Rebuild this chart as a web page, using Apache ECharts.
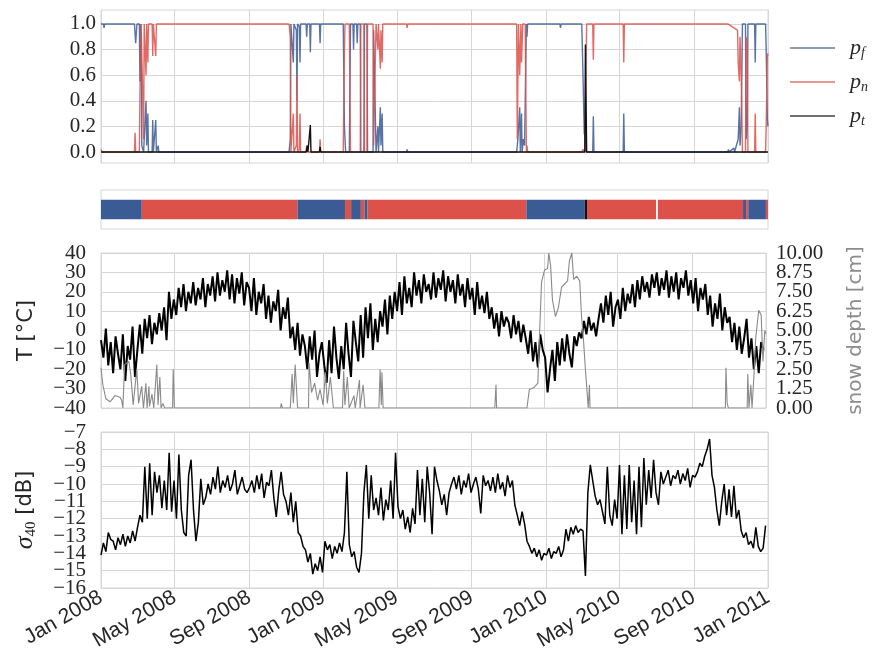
<!DOCTYPE html>
<html>
<head>
<meta charset="utf-8">
<script src="https://cdn.jsdelivr.net/npm/echarts@6/dist/echarts.min.js"></script>
<style>
  html, body { margin: 0; padding: 0; background: #fff; }
  #chart { width: 874px; height: 666px; }
</style>
</head>
<body>
<div id="chart"></div>
<script>
var DAY = 86400000;
var T0 = Date.UTC(2008, 0, 1);
var T1 = Date.UTC(2011, 0, 1);

// x ticks
var tickDates = ['2008-01-01', '2008-05-01', '2008-09-01', '2009-01-01', '2009-05-01',
  '2009-09-01', '2010-01-01', '2010-05-01', '2010-09-01', '2011-01-01'];
var tickLabels = ['Jan 2008', 'May 2008', 'Sep 2008', 'Jan 2009', 'May 2009',
  'Sep 2009', 'Jan 2010', 'May 2010', 'Sep 2010', 'Jan 2011'];

// y ticks
var probTicks = [0, 0.2, 0.4, 0.6, 0.8, 1.0];
var tempTicks = [-40, -30, -20, -10, 0, 10, 20, 30, 40];
var snowTicks = [0, 1.25, 2.5, 3.75, 5, 6.25, 7.5, 8.75, 10];
var sigmaTicks = [-16, -15, -14, -13, -12, -11, -10, -9, -8, -7];

// state probabilities, given as (days since 2008-01-01, value) break points
var pfDays = [0, 4, 5, 6, 55, 57, 59, 63, 64, 65, 66, 67, 70, 73, 74, 75, 77, 78, 84, 85, 86, 89, 90, 91, 94, 95,
  309, 311, 312, 316, 317, 321, 322, 323, 326, 327, 328, 337, 338, 339, 343, 344, 345, 359, 360, 361,
  398, 400, 402, 408, 410, 414, 415, 416, 420, 421, 422, 426, 427, 432, 433, 437, 438, 447, 448, 451, 452, 455, 456, 459, 460, 462, 463, 465,
  502, 503, 504,
  683, 685, 688, 689, 691, 692, 694, 696, 699, 700, 701,
  754, 755, 756,
  790, 792, 794, 796, 797,
  808, 809, 810, 858, 859, 860,
  1030, 1031, 1032, 1040, 1041, 1047, 1049, 1050, 1052, 1054, 1059, 1060, 1062, 1063, 1074, 1075, 1076, 1092, 1093, 1095, 1096];
var pfVals = [1, 1, 0.97, 1, 1, 0.85, 1, 1, 0.55, 1, 0.9, 0.05, 0, 0, 0.4, 0.05, 0.3, 0, 0, 0.25, 0, 0, 0.25, 0, 0.05, 0,
  0, 0.1, 1, 0.7, 1, 0.95, 0.4, 1, 0.98, 0.7, 1, 1, 0.9, 1, 1, 0.78, 1, 1, 0.85, 1,
  1, 0.2, 0, 0, 1, 1, 0.8, 1, 1, 0.85, 1, 1, 0, 0, 1, 1, 0, 0, 0.95, 0.95, 0, 0.2, 0, 0.35, 0.05, 0.3, 0, 0,
  0, 0.02, 0,
  0, 0.1, 0.35, 0, 0.3, 0, 0.1, 0.05, 1, 0.9, 1,
  1, 0.97, 1,
  1, 0.6, 0.15, 0.1, 0,
  0, 0.28, 0, 0, 0.3, 0,
  0, 0.02, 0, 0.03, 0, 0.1, 0.35, 0.05, 0.2, 1, 1, 0.1, 0.2, 1, 1, 0.7, 1, 1, 0.8, 0.25, 0.2];

var pnDays = [0, 2, 55, 56, 57, 63, 64, 66, 69, 70, 71, 73, 74, 75, 77, 78, 84, 85, 86, 89, 90, 91,
  309, 311, 312, 316, 317, 321, 322, 323, 326, 327, 328, 337, 338, 339, 343, 344, 345, 359, 360, 361,
  398, 400, 401, 408, 410, 426, 427, 432, 433, 437, 438, 447, 448, 451, 452, 455, 456, 459, 460, 462, 463,
  502, 503, 504,
  683, 684, 686, 688, 690, 691, 693, 697, 699, 700, 701,
  754, 755, 756,
  790, 792, 795, 798, 808, 809, 810,
  858, 859, 860,
  1030, 1040, 1046, 1047, 1049, 1050, 1052, 1054, 1059, 1060, 1062, 1063, 1074, 1075, 1076, 1092, 1093, 1095, 1096];
var pnVals = [0.02, 0, 0, 0.15, 0, 0, 0.45, 1, 1, 0.1, 1, 1, 0.6, 1, 0.7, 1, 1, 0.75, 1, 1, 0.75, 1,
  1, 0.9, 0, 0.3, 0, 0.05, 0.6, 0, 0.02, 0.3, 0, 0, 0.05, 0, 0, 0.01, 0, 0, 0.1, 0,
  0, 0.8, 1, 1, 0, 0, 1, 1, 0, 0, 1, 1, 0.05, 0.05, 1, 0.8, 1, 0.65, 0.95, 0.7, 1,
  1, 0.97, 1,
  1, 0.1, 1, 0.6, 1, 0.7, 1, 1, 0, 0.05, 0,
  0, 0.01, 0,
  0, 0.02, 0, 1, 1, 0.72, 1,
  1, 0.7, 1,
  1, 0.97, 0.95, 0.7, 0.55, 0.9, 0.6, 0, 0, 0.9, 0.8, 0, 0, 0.3, 0, 0, 0.2, 0.77, 0.75];

var ptDays = [0, 337, 339, 340, 343, 344, 345, 359, 360, 361, 754, 755, 756, 795, 796, 797, 798, 1096];
var ptVals = [0, 0, 0.05, 0, 0, 0.21, 0, 0, 0.04, 0, 0, 0.01, 0, 0, 0.84, 0.84, 0, 0];

// most likely state: 0 frozen, 1 non-frozen, 2 transitional
var stateStart = [0, 67, 323, 401, 411, 427, 433, 438, 699, 795, 798.6, 915, 1055, 1060, 1063.6, 1092.6];
var stateEnd = [67, 323, 401, 411, 427, 433, 438, 699, 795, 798.6, 912, 1055, 1060, 1063.6, 1092.6, 1096];
var stateKind = [0, 1, 0, 1, 0, 1, 0, 1, 0, 2, 1, 1, 0, 1, 0, 1];

// air temperature, one reading every 4 days from 2008-01-01
var tempStepDays = 4;
var tempValues = [
  -5, -14, 1, -18, -6, -22, -3, -12,
  -20, -2, -26, -8, -15, 2, -24,
  -10, 3, -12, 6, -4, 8, -7, 4,
  -2, 9, 0, 12, -5, 20, 6, 16,
  8, 22, 12, 24, 10, 20, 14,
  25, 13, 22, 16, 27, 12, 24, 18,
  28, 15, 30, 18, 26, 20, 31, 16,
  29, 14, 27, 19, 30, 13, 25,
  22, 10, 27, 8, 20, 14, 24, 6,
  18, 4, 15, 10, 21, 0, 12, 6,
  17, -4, 2, -10, 4, -13, -2,
  -8, -20, -3, -15, 0, -24, -12, -6,
  -18, -27, -5, -22, 2, -14, -25, -8,
  -20, 4, -12, -24, 5, -6, -16,
  8, -14, 12, -4, 14, -10, 6,
  -6, 10, 2, 16, -2, 18, 6, 20,
  10, 25, 8, 28, 14, 22, 12, 30,
  18, 26, 14, 29, 20, 24, 16,
  30, 17, 27, 21, 31, 15, 28, 20,
  26, 14, 29, 18, 24, 12, 27, 16,
  22, 8, 25, 11, 18, 9, 20,
  6, 12, 1, 9, -3, 10, 2, 7,
  4, -4, 8, -2, 5, -6, 3,
  -4, -12, 0, -16, -6, -19, -2, -10,
  -14, -32, -20, -10, -26, -6, -18, -4,
  -16, -2, -12, -19, -3, -8, -1,
  -4, 5, -2, 7, 0, 4, -3, 6,
  14, 4, 18, 8, 20, 2, 12,
  16, 6, 22, 10, 19, 14, 24, 12,
  26, 16, 28, 20, 25, 17, 29,
  22, 30, 18, 27, 21, 31, 17, 28,
  20, 30, 16, 27, 22, 31, 18, 26,
  14, 27, 10, 22, 16, 24, 8,
  18, 2, 14, 6, 19, 0, 12, 4,
  7, -6, 4, -10, 2, -12, -4, 6,
  -14, -4, -20, -8, -22, -6, -10
];

// snow depth [cm], (days since 2008-01-01, value)
var snowDays = [0, 3, 8, 15, 23, 31, 34, 36, 39, 46, 49, 53, 59, 62, 67, 70, 74, 76, 79, 80,
  84, 87, 92, 94, 97, 99, 102, 105, 118, 119, 121, 296, 297, 299, 312, 315, 317, 320, 324, 342,
  343, 347, 352, 357, 361, 366, 370, 373, 378, 383, 398, 400, 402, 406, 409, 417, 419, 426, 427, 432,
  435, 458, 460, 462, 463, 465, 649, 651, 652, 702, 706, 713, 720, 723, 726, 731, 736, 738, 741, 744,
  749, 754, 759, 764, 769, 772, 776, 779, 784, 789, 792, 795, 798, 803, 805, 806, 1029, 1030, 1032, 1034,
  1065, 1066, 1068, 1071, 1073, 1076, 1079, 1084, 1088, 1091, 1094, 1096];
var snowVals = [2.6, 1.5, 0.6, 0.4, 0.8, 0.7, 0.5, 0, 2.8, 3.0, 2.2, 0.2, 2.5, 0.3, 1.4, 0, 1.6, 0, 1.4, 0.1,
  0.9, 0, 2.8, 0.2, 2.0, 0, 0.3, 0, 0, 2.5, 0, 0, 0.3, 0, 0, 2.2, 0.3, 2.8, 0, 0,
  2.9, 1.0, 1.6, 0.5, 1.2, 0.2, 2.3, 0.3, 2.0, 0, 0, 2.4, 0.2, 2.0, 0, 0.8, 0, 1.8, 0, 1.5,
  0, 0, 2.5, 0.2, 2.3, 0, 0, 1.5, 0, 0, 1.2, 1.3, 1.6, 5, 8.1, 8.9, 9.0, 10.0, 9.2, 7.0,
  5.9, 6.5, 7.8, 8.0, 8.2, 9.5, 10.0, 8.3, 8.5, 8.2, 5.9, 4.5, 2.7, 0, 1.5, 0, 0, 2.6, 0.3, 0,
  0, 2.2, 0, 1.5, 0, 2.0, 4.5, 6.3, 6.0, 3.0, 5.0, 4.8];

// backscatter sigma40 [dB], one reading every 4 days from 2008-01-01
var sigmaStepDays = 4;
var sigmaValues = [
  -14.1, -13.4, -13.9, -12.8, -13.2, -13.3, -13.8, -13.1,
  -13.5, -12.9, -13.6, -13.0, -13.4, -12.7, -13.3,
  -12.5, -11.8, -12.2, -9.0, -12.0, -8.8, -11.8, -9.3,
  -10.5, -9.5, -11.4, -9.8, -11.5, -8.2, -11.6, -9.8,
  -12.0, -8.3, -11.5, -12.8, -13.0, -9.5, -8.6,
  -11.5, -13.3, -12.2, -9.7, -11.2, -10.8, -10.0, -10.6,
  -9.6, -10.3, -9.0, -10.5, -9.8, -10.2, -9.5, -10.4,
  -10.0, -9.2, -10.6, -10.1, -9.6, -10.3, -10.5,
  -10.2, -9.8, -10.5, -9.5, -10.3, -9.4, -10.8, -9.9,
  -10.1, -9.2, -10.8, -11.9, -10.4, -9.3, -10.6, -11.0,
  -11.8, -10.5, -12.2, -11.0, -12.8, -13.0, -13.6,
  -13.8, -14.5, -14.0, -15.2, -14.6, -15.0, -14.2, -15.1,
  -13.3, -13.8, -13.5, -14.3, -13.6, -14.0, -13.4, -13.9,
  -12.8, -9.3, -13.5, -14.2, -13.9, -14.8, -15.1,
  -14.0, -10.5, -8.9, -12.0, -9.5, -11.5, -10.8,
  -11.8, -10.2, -12.1, -10.9, -11.5, -9.8, -12.0, -8.2,
  -11.3, -12.0, -11.5, -12.6, -11.9, -12.8, -11.4, -12.3,
  -9.2, -11.8, -9.7, -12.2, -9.0, -10.5, -12.9,
  -9.0, -9.8, -10.4, -11.2, -10.6, -11.8, -10.5, -10.0,
  -9.6, -10.3, -9.5, -10.6, -9.8, -10.2, -9.4, -10.5,
  -10.0, -9.6, -10.3, -11.7, -9.5, -10.1, -9.8,
  -10.4, -9.6, -10.5, -9.4, -10.3, -9.9, -10.7, -9.5,
  -10.2, -9.8, -11.2, -11.8, -12.4, -11.6, -12.3,
  -13.3, -13.6, -14.0, -13.7, -14.2, -13.8, -14.4, -14.0,
  -14.1, -13.7, -14.3, -13.9, -14.0, -13.6, -14.2, -13.8,
  -12.6, -13.3, -12.5, -12.9, -12.4, -12.8, -12.6,
  -12.7, -15.3, -10.5, -8.9, -9.8, -10.7, -11.2, -10.9,
  -11.6, -12.3, -9.0, -11.8, -12.4, -10.9, -12.0,
  -8.9, -12.9, -9.5, -12.6, -8.9, -12.2, -9.8, -12.9,
  -9.0, -12.5, -8.5, -11.2, -9.2, -10.8, -8.6,
  -10.5, -11.2, -9.3, -10.0, -9.6, -9.2, -10.1, -9.5,
  -9.7, -9.2, -10.0, -9.4, -9.8, -9.1, -10.2, -9.5,
  -9.6, -9.3, -8.8, -9.0, -8.4, -8.0, -7.4,
  -9.5, -10.2, -11.5, -12.4, -11.0, -10.0, -11.8, -10.3,
  -11.9, -10.1, -12.0, -11.5, -12.7, -13.1, -12.8, -13.5,
  -13.3, -13.7, -12.5, -13.6, -13.9, -13.7, -12.4
];

var BLUE = '#3b5b94';
var RED = '#dc5149';
var stateColors = [BLUE, RED, '#111111'];
var GRIDC = '#d6d6d6';
var TXT = '#262626';

var tickVals = tickDates.map(function (d) { return Date.parse(d); });

function pairs(days, vals) {
  return days.map(function (d, i) { return [T0 + d * DAY, vals[i]]; });
}
function stepped(vals, step) {
  return vals.map(function (v, i) { return [T0 + i * step * DAY, v]; });
}
function minus(v) { return String(v).replace('-', '\u2212'); }
function fixed1(v) { return v.toFixed(1); }
function fixed2(v) { return v.toFixed(2); }
// every second tick, starting at `from`
function alternate(list, from) { return list.filter(function (v, i) { return i % 2 === from; }); }

// x is a plain value axis of timestamps, ticks put on the month starts
function xAxisFor(gi, withLabels, withSplit) {
  return {
    type: 'value', gridIndex: gi, min: T0, max: T1, scale: true,
    axisLine: { show: false },
    axisTick: { show: false, customValues: tickVals },
    axisLabel: {
      show: withLabels, customValues: tickVals, rotate: 30, margin: 8,
      showMinLabel: true, showMaxLabel: true, hideOverlap: false,
      fontFamily: 'Liberation Sans', fontSize: 21, color: TXT,
      formatter: function (v) {
        var i = tickVals.indexOf(v);
        return i < 0 ? '' : tickLabels[i];
      }
    },
    splitLine: { show: withSplit, lineStyle: { color: GRIDC, width: 1 } }
  };
}

function yLabel(values, fmt, margin) {
  return {
    customValues: values, margin: margin, showMinLabel: true, showMaxLabel: true, hideOverlap: false,
    fontFamily: 'Liberation Serif', fontSize: 21, color: TXT, formatter: fmt
  };
}

// The tick labels of the tightly packed axes are split over two coincident axes,
// so that ECharts does not drop the ones next to the min/max label.
function yPair(gi, pos, min, max, ticks, fmt, margin, extra) {
  var main = {
    type: 'value', gridIndex: gi, position: pos, min: min, max: max,
    axisLine: { show: false }, axisTick: { show: false, customValues: ticks },
    axisLabel: yLabel(alternate(ticks, 0), fmt, margin),
    splitLine: { show: pos === 'left', lineStyle: { color: GRIDC } }
  };
  var twin = {
    type: 'value', gridIndex: gi, position: pos, offset: 0, min: min, max: max,
    axisLine: { show: false }, axisTick: { show: false, customValues: ticks },
    axisLabel: yLabel(alternate(ticks, 1), fmt, margin),
    splitLine: { show: false }
  };
  return [Object.assign(main, extra), twin];
}

var tempAxes = yPair(2, 'left', -40, 40, tempTicks, minus, 15, {
  name: 'T [°C]', nameLocation: 'middle', nameRotate: 90, nameGap: 64,
  nameTextStyle: { fontFamily: 'DejaVu Sans', fontSize: 21, color: TXT }
});
var snowAxes = yPair(2, 'right', 0, 10, snowTicks, fixed2, 10, {
  name: 'snow depth [cm]', nameLocation: 'middle', nameRotate: 90, nameGap: 80,
  nameTextStyle: { fontFamily: 'DejaVu Sans', fontSize: 20, color: '#8c8c8c' }
});
var sigmaAxes = yPair(3, 'left', -16, -7, sigmaTicks, minus, 15, {
  name: '{s|σ}{n|40}{d| [dB]}', nameLocation: 'middle', nameRotate: 90, nameGap: 62,
  nameTextStyle: {
    rich: {
      s: { fontFamily: 'Liberation Serif', fontStyle: 'italic', fontSize: 26, color: TXT },
      n: { fontFamily: 'Liberation Serif', fontSize: 15, color: TXT, verticalAlign: 'bottom', padding: [12, 0, 0, 0] },
      d: { fontFamily: 'DejaVu Sans', fontSize: 21, color: TXT }
    }
  }
});

var stateData = stateStart.map(function (s, i) { return [T0 + s * DAY, T0 + stateEnd[i] * DAY, stateKind[i]]; });

var chart = echarts.init(document.getElementById('chart'));
chart.setOption({
  animation: false,
  backgroundColor: '#fff',
  grid: [
    { left: 101, top: 10, width: 667, height: 153, show: true, borderColor: GRIDC, borderWidth: 1 },
    { left: 101, top: 190, width: 667, height: 39, show: true, borderColor: GRIDC, borderWidth: 1 },
    { left: 101, top: 253, width: 667, height: 155, show: true, borderColor: GRIDC, borderWidth: 1 },
    { left: 101, top: 432, width: 667, height: 156, show: true, borderColor: GRIDC, borderWidth: 1 }
  ],
  legend: {
    orient: 'vertical', left: 790, top: 36, padding: 0, itemWidth: 45, itemHeight: 2, itemGap: 10,
    icon: 'rect', itemStyle: { opacity: 0.6 },
    data: ['p_f', 'p_n', 'p_t'],
    formatter: function (n) { return '{p|p}{s|' + n.split('_')[1] + '}'; },
    textStyle: {
      rich: {
        p: { fontFamily: 'Liberation Serif', fontStyle: 'italic', fontSize: 22, color: TXT, lineHeight: 24, padding: [0, 0, 0, 10] },
        s: { fontFamily: 'Liberation Serif', fontStyle: 'italic', fontSize: 14, color: TXT, verticalAlign: 'bottom', lineHeight: 14, padding: [10, 0, 0, 0] }
      }
    }
  },
  xAxis: [xAxisFor(0, false, true), xAxisFor(1, false, false), xAxisFor(2, false, true), xAxisFor(3, true, true)],
  yAxis: [
    {
      type: 'value', gridIndex: 0, min: -0.086, max: 1.109,
      axisLine: { show: false },
      axisTick: { show: false, customValues: probTicks },
      axisLabel: yLabel(probTicks, fixed1, 5),
      splitLine: { lineStyle: { color: GRIDC } }
    },
    {
      type: 'value', gridIndex: 1, min: 0, max: 1,
      axisLine: { show: false }, axisTick: { show: false }, axisLabel: { show: false }, splitLine: { show: false }
    },
    tempAxes[0], snowAxes[0], sigmaAxes[0],
    tempAxes[1], snowAxes[1], sigmaAxes[1]
  ],
  series: [
    { name: 'p_f', type: 'line', xAxisIndex: 0, yAxisIndex: 0, showSymbol: false,
      lineStyle: { color: BLUE, width: 1.4, opacity: 0.85 }, itemStyle: { color: BLUE },
      data: pairs(pfDays, pfVals) },
    { name: 'p_n', type: 'line', xAxisIndex: 0, yAxisIndex: 0, showSymbol: false,
      lineStyle: { color: RED, width: 1.4, opacity: 0.85 }, itemStyle: { color: RED },
      data: pairs(pnDays, pnVals) },
    { name: 'p_t', type: 'line', xAxisIndex: 0, yAxisIndex: 0, showSymbol: false,
      lineStyle: { color: '#111', width: 1.4 }, itemStyle: { color: '#111' },
      data: pairs(ptDays, ptVals) },
    { type: 'custom', xAxisIndex: 1, yAxisIndex: 1, encode: { x: [0, 1], y: 2 },
      renderItem: function (params, api) {
        var a = api.coord([api.value(0), 0.75]);
        var b = api.coord([api.value(1), 0.25]);
        return { type: 'rect', shape: { x: a[0], y: a[1], width: b[0] - a[0], height: b[1] - a[1] },
          style: { fill: stateColors[api.value(2)] } };
      },
      data: stateData },
    { name: 'T', type: 'line', xAxisIndex: 2, yAxisIndex: 2, showSymbol: false,
      lineStyle: { color: '#000', width: 2 }, data: stepped(tempValues, tempStepDays) },
    { name: 'snow', type: 'line', xAxisIndex: 2, yAxisIndex: 3, showSymbol: false,
      lineStyle: { color: '#8a8a8a', width: 1.1 }, data: pairs(snowDays, snowVals) },
    { name: 'sigma', type: 'line', xAxisIndex: 3, yAxisIndex: 4, showSymbol: false,
      lineStyle: { color: '#000', width: 1.5 }, data: stepped(sigmaValues, sigmaStepDays) }
  ]
});
</script>
</body>
</html>
